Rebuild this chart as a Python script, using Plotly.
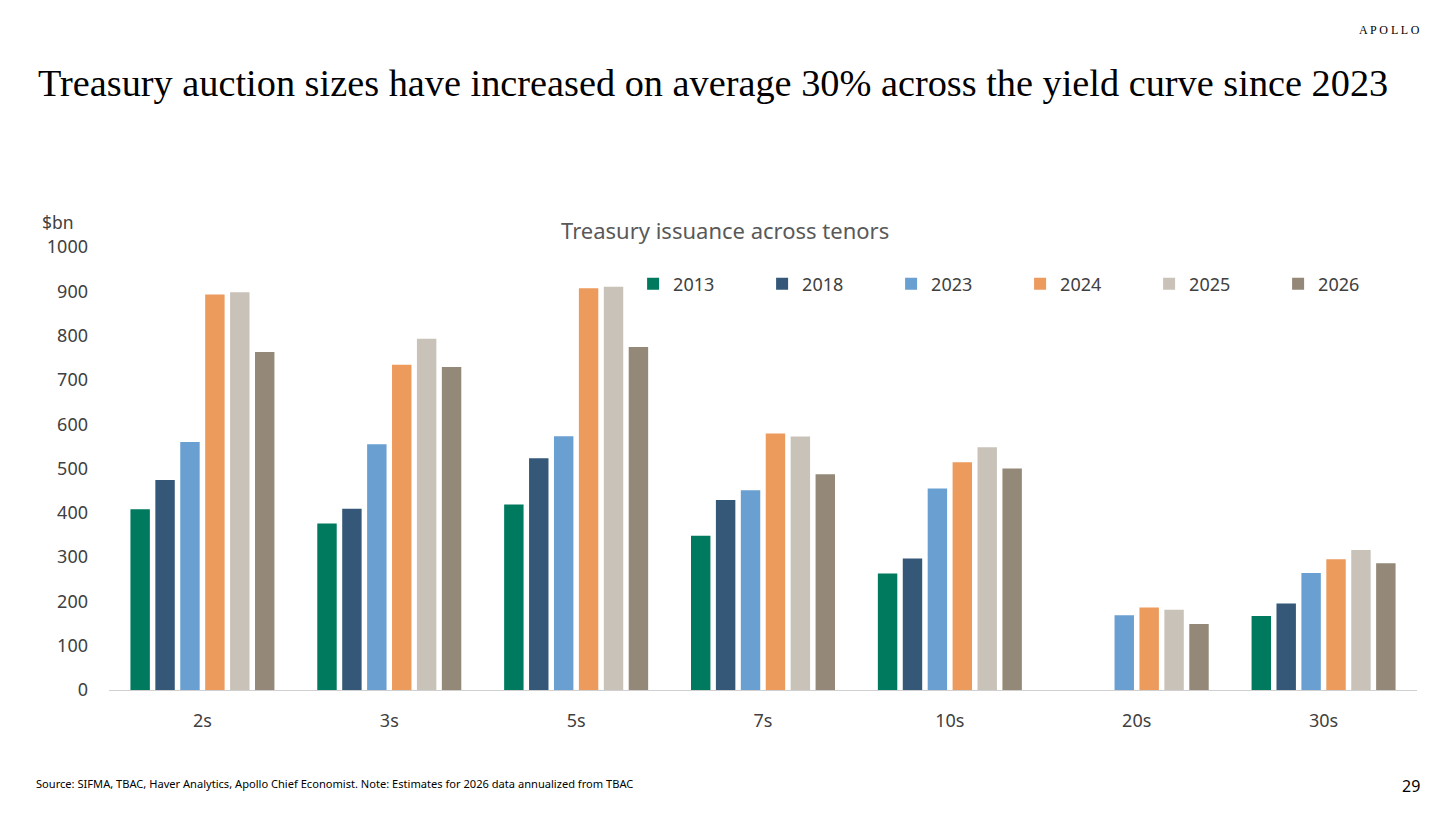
import plotly.graph_objects as go

tenors = ["2s", "3s", "5s", "7s", "10s", "20s", "30s"]
years = ["2013", "2018", "2023", "2024", "2025", "2026"]

# $bn issuance by tenor, one list per year (20s not issued in 2013/2018)
y2013 = [408, 376, 419, 348, 263, None, 167]
y2018 = [474, 409, 523, 429, 297, None, 195]
y2023 = [560, 555, 573, 451, 455, 169, 264]
y2024 = [893, 734, 907, 579, 514, 186, 295]
y2025 = [898, 793, 910, 572, 548, 181, 316]
y2026 = [763, 729, 774, 487, 500, 149, 286]

series = [y2013, y2018, y2023, y2024, y2025, y2026]
colors = ["#007A5E", "#355879", "#6A9FD1", "#ED9A5D", "#C9C2B8", "#948878"]

# page is shown with an 8px body margin, so the figure is 8px smaller
W, H, OFF = 1448, 806, 8
L, R, T, B = 100.5, 38.5, 239, 124
PW, PH = W - L - R, H - T - B

fig = go.Figure()
for name, vals, col in zip(years, series, colors):
    fig.add_trace(go.Bar(
        x=tenors, y=vals, name=name,
        marker=dict(color=col, line=dict(width=0)),
    ))

chart_font = "Noto Sans, Open Sans, sans-serif"

fig.update_layout(
    width=W, height=H,
    paper_bgcolor="white", plot_bgcolor="white",
    margin=dict(l=L, r=R, t=T, b=B),
    barmode="group", bargap=0.2, bargroupgap=0.22,
    font=dict(family=chart_font, size=18, color="#404040"),
    showlegend=True,
    legend=dict(
        orientation="h", x=(633 - OFF - L) / PW, xanchor="left",
        y=(690 - 284) / 443, yanchor="middle",
        entrywidth=84, entrywidthmode="pixels",
        font=dict(size=18, color="#404040"),
        bgcolor="rgba(0,0,0,0)", traceorder="normal",
    ),
    xaxis=dict(
        showgrid=False, showline=True, linecolor="#D0D0D0", linewidth=1,
        ticks="", tickfont=dict(size=18, color="#404040"),
        ticklabelstandoff=14,
    ),
    yaxis=dict(
        range=[0, 1000], dtick=100, showgrid=False, zeroline=False,
        showline=False, ticks="", tickfont=dict(size=18, color="#404040"),
        ticklabelstandoff=20,
    ),
)

# text placed by page pixel position (x, y of the anchor point)
notes = [
    ("Treasury auction sizes have increased on average 30% across the yield curve since 2023",
     35, 83, "left", dict(family="Liberation Serif, serif", size=38.3, color="black")),
    ("Treasury issuance across tenors", 725, 230, "center",
     dict(family=chart_font, size=22, color="#595959")),
    ("$bn", 57, 222, "center", dict(family=chart_font, size=17.5, color="#404040")),
    ("Source: SIFMA, TBAC, Haver Analytics, Apollo Chief Economist. Note: Estimates for 2026 data annualized from TBAC",
     33, 783, "left", dict(family=chart_font, size=11.1, color="black")),
    ("29", 1411, 786, "center", dict(family=chart_font, size=16, color="black")),
    ("A P O L L O", 1390, 30, "center",
     dict(family="Liberation Serif, serif", size=12, color="black")),
]
for text, px, py, anchor, f in notes:
    fig.add_annotation(
        text=text, showarrow=False, xref="paper", yref="paper",
        x=(px - OFF - L) / PW, y=(H - B - (py - OFF)) / PH,
        xanchor=anchor, yanchor="middle", font=f,
    )

fig.write_html("out.html")
